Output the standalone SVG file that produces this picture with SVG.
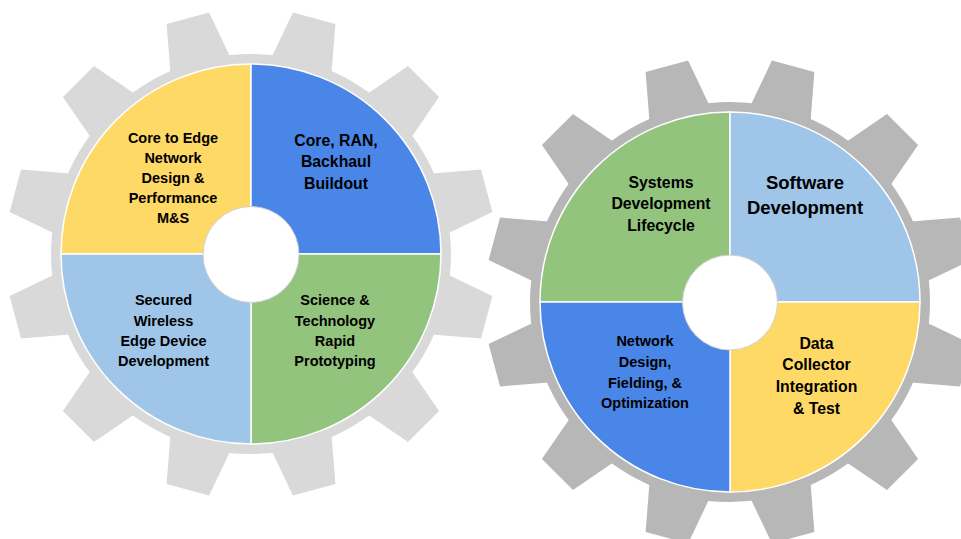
<svg xmlns="http://www.w3.org/2000/svg" width="961" height="539" viewBox="0 0 961 539">
  <defs>
    <style>
      .lbl { font-family: "Liberation Sans", Arial, sans-serif; font-weight: bold; fill: #000; text-anchor: middle; }
      .s14 { font-size: 14.5px; }
      .s16 { font-size: 15.8px; }
      .s18 { font-size: 18.5px; }
      .seg { stroke: #ffffff; stroke-width: 1.5; }
      .hub { fill: #ffffff; stroke: #cfcfcf; stroke-width: 1; }
      .yellow { fill: #ffd966; }
      .blue { fill: #4a86e8; }
      .green { fill: #93c47d; }
      .lblue { fill: #9fc5e8; }
    </style>
    <polygon id="tooth" points="-32,-190 -22,-244 22,-244 32,-190"/>
    <g id="gearShape">
      <circle cx="0" cy="0" r="200"/>
      <use href="#tooth" transform="rotate(15)"/>
      <use href="#tooth" transform="rotate(45)"/>
      <use href="#tooth" transform="rotate(75)"/>
      <use href="#tooth" transform="rotate(105)"/>
      <use href="#tooth" transform="rotate(135)"/>
      <use href="#tooth" transform="rotate(165)"/>
      <use href="#tooth" transform="rotate(195)"/>
      <use href="#tooth" transform="rotate(225)"/>
      <use href="#tooth" transform="rotate(255)"/>
      <use href="#tooth" transform="rotate(285)"/>
      <use href="#tooth" transform="rotate(315)"/>
      <use href="#tooth" transform="rotate(345)"/>
    </g>
  </defs>
  <rect x="0" y="0" width="961" height="539" fill="#ffffff"/>

  <!-- Left gear -->
  <g id="gear-left">
    <use href="#gearShape" transform="translate(251,254)" fill="#d9d9d9"/>
    <g id="left-core-edge">
      <path class="seg yellow" d="M251,254 L61,254 A190,190 0 0 1 251,64 Z"/>
      <text class="lbl s14" x="173" y="142.5">Core to Edge</text>
      <text class="lbl s14" x="173" y="163">Network</text>
      <text class="lbl s14" x="173" y="183">Design &amp;</text>
      <text class="lbl s14" x="173" y="203">Performance</text>
      <text class="lbl s14" x="173" y="223">M&amp;S</text>
    </g>
    <g id="left-core-ran">
      <path class="seg blue" d="M251,254 L251,64 A190,190 0 0 1 441,254 Z"/>
      <text class="lbl s16" x="336" y="145.5">Core, RAN,</text>
      <text class="lbl s16" x="336" y="167">Backhaul</text>
      <text class="lbl s16" x="336" y="188.5">Buildout</text>
    </g>
    <g id="left-science">
      <path class="seg green" d="M251,254 L441,254 A190,190 0 0 1 251,444 Z"/>
      <text class="lbl s14" x="335" y="305">Science &amp;</text>
      <text class="lbl s14" x="335" y="325.5">Technology</text>
      <text class="lbl s14" x="335" y="345.5">Rapid</text>
      <text class="lbl s14" x="335" y="365.5">Prototyping</text>
    </g>
    <g id="left-secured">
      <path class="seg lblue" d="M251,254 L251,444 A190,190 0 0 1 61,254 Z"/>
      <text class="lbl s14" x="163.5" y="305">Secured</text>
      <text class="lbl s14" x="163.5" y="325.5">Wireless</text>
      <text class="lbl s14" x="163.5" y="345.5">Edge Device</text>
      <text class="lbl s14" x="163.5" y="365.5">Development</text>
    </g>
    <circle class="hub" cx="251" cy="254.5" r="48"/>
  </g>

  <!-- Right gear -->
  <g id="gear-right">
    <use href="#gearShape" transform="translate(730,302)" fill="#b7b7b7"/>
    <g id="right-sdlc">
      <path class="seg green" d="M730,302 L540,302 A190,190 0 0 1 730,112 Z"/>
      <text class="lbl s16" x="661" y="187.5">Systems</text>
      <text class="lbl s16" x="661" y="209">Development</text>
      <text class="lbl s16" x="661" y="230.5">Lifecycle</text>
    </g>
    <g id="right-software">
      <path class="seg lblue" d="M730,302 L730,112 A190,190 0 0 1 920,302 Z"/>
      <text class="lbl s18" x="805" y="188.5">Software</text>
      <text class="lbl s18" x="805" y="214">Development</text>
    </g>
    <g id="right-data">
      <path class="seg yellow" d="M730,302 L920,302 A190,190 0 0 1 730,492 Z"/>
      <text class="lbl s16" x="816.5" y="348.5">Data</text>
      <text class="lbl s16" x="816.5" y="370">Collector</text>
      <text class="lbl s16" x="816.5" y="391.5">Integration</text>
      <text class="lbl s16" x="816.5" y="413.5">&amp; Test</text>
    </g>
    <g id="right-network">
      <path class="seg blue" d="M730,302 L730,492 A190,190 0 0 1 540,302 Z"/>
      <text class="lbl s14" x="645" y="345.5">Network</text>
      <text class="lbl s14" x="645" y="366.5">Design,</text>
      <text class="lbl s14" x="645" y="387.5">Fielding, &amp;</text>
      <text class="lbl s14" x="645" y="408">Optimization</text>
    </g>
    <circle class="hub" cx="730" cy="302.5" r="47.5"/>
  </g>
</svg>
